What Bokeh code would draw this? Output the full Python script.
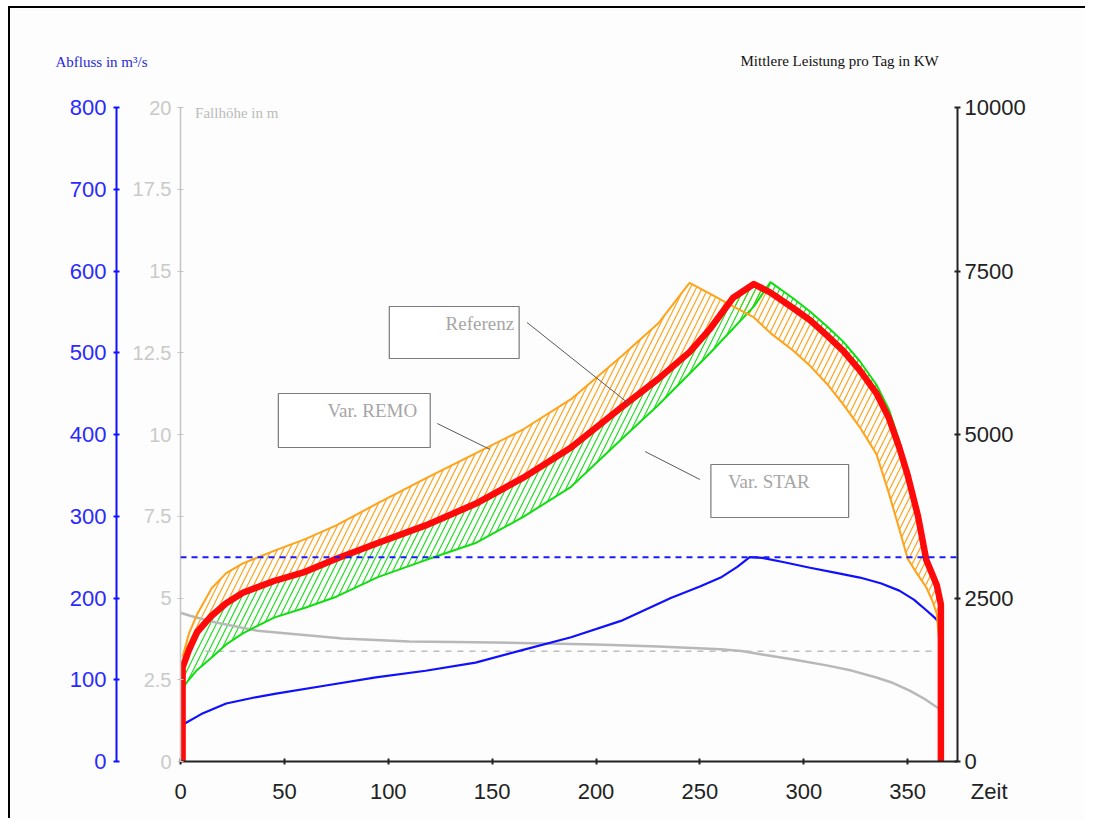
from bokeh.plotting import figure
from bokeh.models import Range1d, LinearAxis, FixedTicker, Label, Span, Title
from bokeh.embed import file_html
from bokeh.resources import INLINE

# ---------------- data ----------------
days = [1, 4, 8, 15, 22, 30, 45, 60, 75, 95, 118, 142, 165, 188, 212, 230, 245, 255,
        266, 276, 284, 295, 303, 311, 319, 327, 335, 341, 346, 350, 355, 359, 362, 364, 366]
remo_kw = [1600, 1950, 2250, 2650, 2880, 3030, 3220, 3400, 3610, 3950, 4330, 4710, 5080,
           5540, 6190, 6700, 7320, 7150, 6960, 6790, 6550, 6280, 6050, 5780, 5460, 5110,
           4700, 4100, 3550, 3100, 2850, 2660, 2450, 2260, 1550]
ref_kw = [1440, 1700, 1980, 2230, 2420, 2580, 2760, 2900, 3100, 3340, 3610, 3940, 4340,
          4800, 5410, 5850, 6260, 6620, 7090, 7300, 7170, 6930, 6750, 6520, 6280, 5980,
          5630, 5250, 4800, 4380, 3750, 3080, 2850, 2700, 2400]
star_kw = [1120, 1250, 1400, 1590, 1790, 1960, 2200, 2350, 2520, 2820, 3080, 3340, 3740,
           4200, 4920, 5450, 5930, 6250, 6620, 6960, 7330, 7080, 6880, 6660, 6420, 6120,
           5760, 5380, 4900, 4420, 3750, 3080, 2850, 2700, 2400]

q_days = [1, 10, 22, 35, 46, 70, 94, 118, 142, 164, 188, 212, 236, 250, 260, 268, 274,
          280, 290, 303, 315, 327, 337, 346, 353, 359, 363, 366]
q_vals = [45, 58, 71, 78, 83, 93, 103, 111, 121, 136, 152, 172, 200, 214, 225, 238, 250,
          249, 244, 237, 231, 225, 218, 209, 198, 185, 176, 168]

fh_days = [0, 5, 17, 37, 78, 110, 142, 170, 200, 230, 260, 270, 280, 295, 311, 323, 335,
           343, 351, 358, 365]
fh_vals = [4.55, 4.45, 4.25, 4.0, 3.76, 3.67, 3.65, 3.62, 3.58, 3.52, 3.43, 3.38, 3.27,
           3.12, 2.94, 2.78, 2.57, 2.40, 2.17, 1.92, 1.62]

q_ausbau = 250
fh_mittel = 3.37
fh_mittel_span = [12, 362]

x_ticks = [0, 50, 100, 150, 200, 250, 300, 350]
q_ticks = [0, 100, 200, 300, 400, 500, 600, 700, 800]
fh_ticks = [0, 2.5, 5, 7.5, 10, 12.5, 15, 17.5, 20]
fh_tick_labels = ["0", "2.5", "5", "7.5", "10", "12.5", "15", "17.5", "20"]
kw_ticks = [0, 2500, 5000, 7500, 10000]

# ---------------- figure ----------------
BG = "#fcfdfc"
p = figure(width=1080, height=812, x_range=Range1d(0, 374), y_range=Range1d(0, 10000),
           output_backend="svg", toolbar_location=None,
           x_axis_location=None, y_axis_location=None,
           min_border_left=170, min_border_right=133, min_border_top=99, min_border_bottom=59,
           background_fill_color=BG, border_fill_color=BG, outline_line_color=None)
p.extra_y_ranges = {"q": Range1d(0, 800), "fh": Range1d(0, 20)}
p.grid.visible = False
p.styles = {"margin-left": "10px", "margin-top": "8px",
            "box-shadow": "-2px -2px 0px 0px #000000",
            "clip-path": "inset(-3px 5px 0px -3px)"}

TICKFONT = "Liberation Sans"
TF = "22px"
SERIF = "Liberation Serif"

fh_axis = LinearAxis(y_range_name="fh", ticker=FixedTicker(ticks=fh_ticks),
                     major_label_overrides={t: l for t, l in zip(fh_ticks, fh_tick_labels)},
                     axis_line_color="#c4c4c4", axis_line_width=1.5,
                     major_tick_line_color="#c4c4c4", major_tick_in=3, major_tick_out=3,
                     minor_tick_line_color=None,
                     major_label_text_color="#cacaca", major_label_text_font=TICKFONT,
                     major_label_text_font_size="20px", major_label_standoff=6,
                     axis_label=" ", axis_label_standoff=4, axis_label_text_font_size="6px")
q_axis = LinearAxis(y_range_name="q", ticker=FixedTicker(ticks=q_ticks),
                    axis_line_color="#1010ff", axis_line_width=2,
                    major_tick_line_color="#1010ff", major_tick_line_width=2,
                    major_tick_in=3, major_tick_out=3, minor_tick_line_color=None,
                    major_label_text_color="#2a2aff", major_label_text_font=TICKFONT,
                    major_label_text_font_size=TF, major_label_standoff=7)
kw_axis = LinearAxis(ticker=FixedTicker(ticks=kw_ticks),
                     axis_line_color="#222222", axis_line_width=2,
                     major_tick_line_color="#222222", major_tick_line_width=2,
                     major_tick_in=3, major_tick_out=3, minor_tick_line_color=None,
                     major_label_text_color="#222222", major_label_text_font=TICKFONT,
                     major_label_text_font_size=TF, major_label_standoff=4)
x_axis = LinearAxis(ticker=FixedTicker(ticks=x_ticks),
                    axis_line_color="#222222", axis_line_width=2,
                    major_tick_line_color="#222222", major_tick_line_width=2,
                    major_tick_in=3, major_tick_out=3, minor_tick_line_color=None,
                    major_label_text_color="#222222", major_label_text_font=TICKFONT,
                    major_label_text_font_size=TF, major_label_standoff=19)
p.add_layout(fh_axis, "left")
p.add_layout(q_axis, "left")
p.add_layout(kw_axis, "right")
p.add_layout(x_axis, "below")

# ---------------- hatched bands ----------------
p.varea(x=days, y1=remo_kw, y2=ref_kw, fill_color=None, hatch_pattern="/",
        hatch_color="#ffa31a", hatch_scale=12, hatch_weight=1.2)
p.varea(x=days, y1=star_kw, y2=ref_kw, fill_color=None, hatch_pattern="/",
        hatch_color="#22dd22", hatch_scale=12, hatch_weight=1.2)

# ---------------- reference lines ----------------
p.add_layout(Span(location=q_ausbau, dimension="width", y_range_name="q",
                  line_color="#1a1aff", line_width=2, line_dash="6 5"))
p.line(x=fh_mittel_span, y=[fh_mittel, fh_mittel], y_range_name="fh",
       line_color="#bdbdbd", line_width=1.5, line_dash="6 6")

# ---------------- series ----------------
p.line(x=fh_days, y=fh_vals, y_range_name="fh", line_color="#b8b8b8", line_width=2.5)
p.line(x=q_days, y=q_vals, y_range_name="q", line_color="#1010ff", line_width=2.2)
p.line(x=days, y=star_kw, line_color="#11dd11", line_width=2)
p.line(x=days, y=remo_kw, line_color="#ffa31a", line_width=2)
ref_x = [days[0]] + days + [days[-1]]
ref_y = [0] + ref_kw + [0]
p.line(x=ref_x, y=ref_y, line_color="#ff0a0a", line_width=6.5, line_join="round")

# ---------------- callout boxes ----------------
box_left = [100.5, 47.1, 255.3]
box_right = [163.0, 120.2, 321.6]
box_top = [6957, 5627, 4541]
box_bottom = [6162, 4801, 3731]
p.quad(left=box_left, right=box_right, top=box_top, bottom=box_bottom,
       fill_color="#ffffff", line_color="#7a7a7a", line_width=1.2)
p.segment(x0=[166.8, 123.6, 223.6], y0=[6713, 5168, 4740],
          x1=[216.3, 149.0, 250.0], y1=[5459, 4771, 4312],
          line_color="#5a5a5a", line_width=1)

for tx, ty, txt in [(160.6, 6697, "Referenz"), (113.9, 5367, "Var. REMO"), (302.9, 4281, "Var. STAR")]:
    p.add_layout(Label(x=tx, y=ty, text=txt, text_font=SERIF, text_font_size="19px",
                       text_color="#a6a6a6", text_baseline="middle", text_align="right"))

p.add_layout(Label(x=7.0, y=9915, text="Fallhöhe in m", text_font=SERIF,
                   text_font_size="15px", text_color="#bbbbbb", text_baseline="middle"))

# ---------------- outer texts (titles in the side panels) ----------------
p.add_layout(Title(text="Mittlere Leistung pro Tag in KW", align="left", offset=560,
                   text_font=SERIF, text_font_size="15px", text_font_style="normal",
                   text_color="#111111", standoff=78), "above")
p.add_layout(Title(text="Abfluss in m³/s", align="left", offset=-125,
                   text_font=SERIF, text_font_size="15px", text_font_style="normal",
                   text_color="#2a2ad8", standoff=-116), "above")
p.add_layout(Title(text="Zeit", align="right", offset=-50, vertical_align="top",
                   text_font=TICKFONT, text_font_size="22px", text_font_style="normal",
                   text_color="#222222", standoff=-46), "below")

open("out.html", "w").write(file_html(p, INLINE))
